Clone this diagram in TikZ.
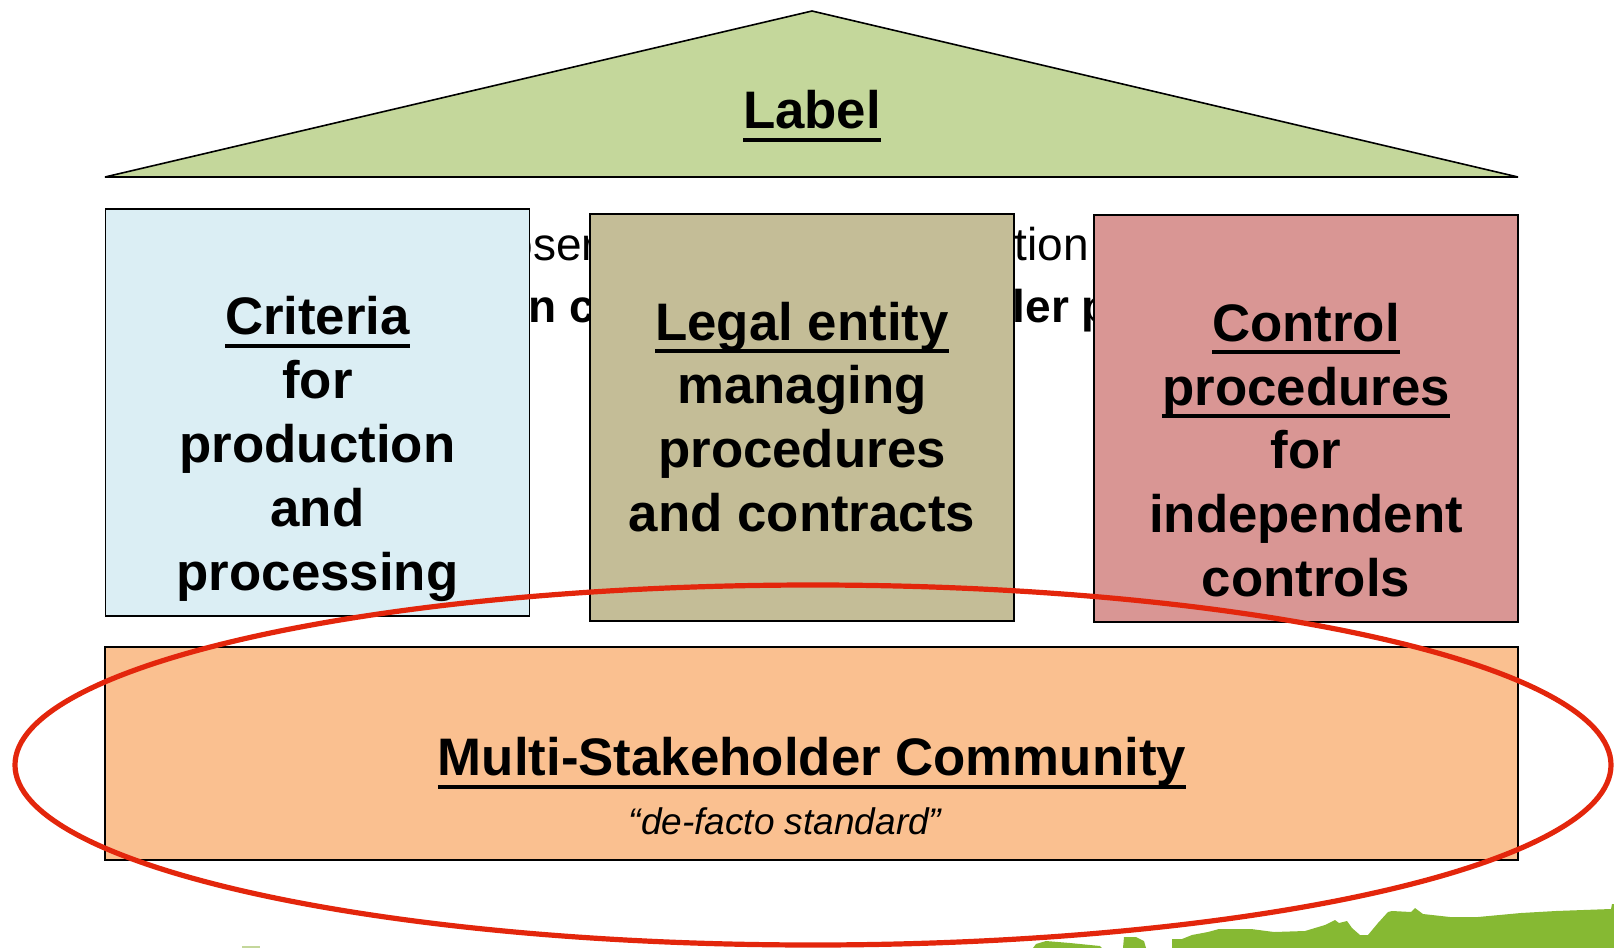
\documentclass[tikz,border=0pt]{standalone}
\usepackage{fontspec}
\setmainfont{Liberation Sans}
\usepackage{tikz}
\usepackage[dvipsnames]{xcolor}
\definecolor{roofgreen}{RGB}{196,215,155}
\definecolor{critblue}{RGB}{219,238,244}
\definecolor{legaltan}{RGB}{196,189,151}
\definecolor{ctrlpink}{RGB}{217,150,148}
\definecolor{basepeach}{RGB}{250,192,144}
\definecolor{ringred}{RGB}{227,38,12}
\definecolor{grass}{RGB}{134,185,51}
\newcommand{\undl}[1]{\setbox0\hbox{#1}\rlap{\rule[-0.245em]{\wd0}{0.075em}}\box0}

\begin{document}
\begin{tikzpicture}[x=0.5pt, y=-0.5pt, line width=0.8pt,
    pillar/.style = {draw, rectangle, minimum width=212pt, minimum height=203.5pt, inner sep=0pt},
    bigtxt/.style = {align=center, font=\fontsize{26.4}{31.9}\selectfont\bfseries, inner sep=0pt},
    backtxt/.style = {anchor=base west, inner sep=0pt, font=\fontsize{23}{28}\selectfont}]
		\useasboundingbox (0,0) rectangle (1614,948);
		\node[backtxt] (bg1) at (507,260) {oser};
		\node[backtxt] (bg2) at (1014,260) {tion};
		\node[backtxt, font=\fontsize{23}{28}\selectfont\bfseries] (bg3) at (528,322) {n c};
		\node[backtxt, font=\fontsize{23}{28}\selectfont\bfseries] (bg4) at (1012,322) {ler p};
		\coordinate (eaveL) at (105,177);
		\coordinate (apex) at (812,11);
		\coordinate (eaveR) at (1518,177);
		\draw[fill=roofgreen, line join=bevel] (eaveL) -- (apex) -- (eaveR) -- cycle;
		\node[bigtxt] (label) at (812,116) {\undl{Label}};
		\node[pillar, fill=critblue] (crit) at (317.5,412.5) {};
		\node[pillar, fill=legaltan] (legal) at (802,417.5) {};
		\node[pillar, fill=ctrlpink] (ctrl) at (1306,418.5) {};
		\node[bigtxt] (crittxt) at (317.5,449) {\undl{Criteria}\\for\\production\\and\\processing};
		\node[bigtxt] (legaltxt) at (802,417) {\undl{Legal entity}\\managing\\procedures\\and contracts};
		\node[bigtxt] (ctrltxt) at (1306,450) {\undl{Control}\\\undl{procedures}\\for\\independent\\controls};
		\node[draw, rectangle, fill=basepeach, minimum width=706.5pt, minimum height=106.5pt, inner sep=0pt] (base) at (811.5,753.5) {};
		\node[bigtxt] (community) at (812,763) {\undl{Multi-Stakeholder Community}};
		\node[inner sep=0pt, font=\fontsize{18.5}{22}\selectfont\itshape] (defacto) at (785,821) {“de-facto standard”};
		\fill[grass] (1033,948) -- (1036,944) -- (1046,941) -- (1070,943) -- (1100,946) -- (1102,948) -- cycle;
		\fill[grass] (1123,948) -- (1124,937) -- (1136,937) -- (1144,941) -- (1146,948) -- cycle;
		\fill[grass] (1172,948) -- (1172,939) -- (1182,939) -- (1192,935) -- (1208,932) -- (1219,929) -- (1251,929)
			-- (1274,932) -- (1305,931) -- (1325,925) -- (1335,920) -- (1339,923) -- (1347,921) -- (1352,928)
			-- (1360,935) -- (1368,935) -- (1378,923) -- (1388,912) -- (1392,911) -- (1411,912) -- (1415,908)
			-- (1423,914) -- (1450,917) -- (1478,917) -- (1521,913) -- (1556,911) -- (1611,909) -- (1612,904)
			-- (1614,904) -- (1614,948) -- cycle;
		\fill[roofgreen] (242,946) rectangle (260,948);
		\draw[ringred, line width=2.6pt] (813,765) ellipse [x radius=399pt, y radius=90pt];
\end{tikzpicture}
\end{document}
